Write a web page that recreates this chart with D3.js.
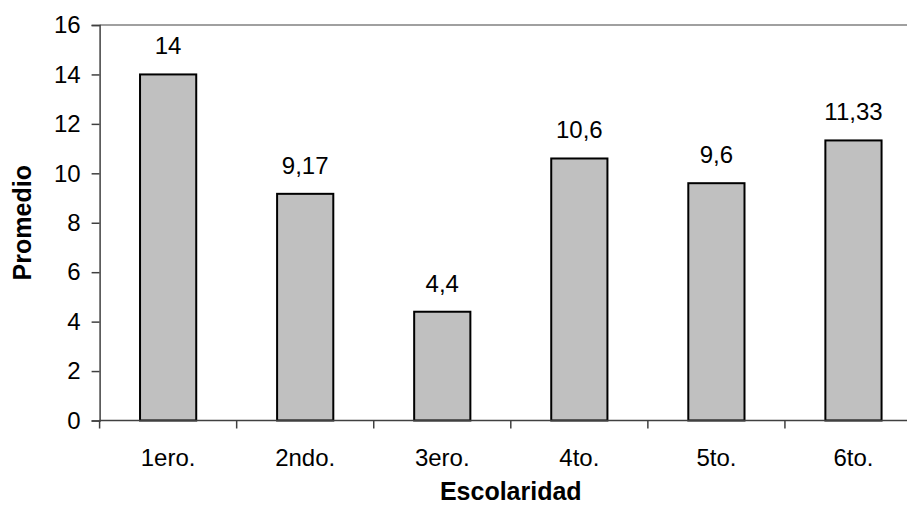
<!DOCTYPE html>
<html>
<head>
<meta charset="utf-8">
<script src="https://cdn.jsdelivr.net/npm/d3@7"></script>
<style>
  html, body { margin: 0; padding: 0; background: #fff; }
  svg { display: block; font-family: "Liberation Sans", Arial, sans-serif; }
</style>
</head>
<body>
<svg id="chart" width="907" height="514"></svg>
<script>
// Average score by school grade
const categories = ["1ero.", "2ndo.", "3ero.", "4to.", "5to.", "6to."];
const promedio = [14, 9.17, 4.4, 10.6, 9.6, 11.33];
const yTicks = [0, 2, 4, 6, 8, 10, 12, 14, 16];

const margin = { left: 99.6, top: 25, bottom: 93.5 };
const plotW = 822.4;           // plot area runs past the right edge of the page
const svg = d3.select("#chart");
const H = +svg.attr("height");
const plotH = H - margin.top - margin.bottom;

const x = d3.scaleBand()
  .domain(categories)
  .range([0, plotW])
  .paddingInner(0.59)
  .paddingOuter(0.295);

const y = d3.scaleLinear().domain([0, 16]).range([plotH, 0]);

const g = svg.append("g").attr("transform", `translate(${margin.left},${margin.top})`);

// top border of the plot area
g.append("line")
  .attr("x1", 0).attr("x2", plotW)
  .attr("y1", y(16)).attr("y2", y(16))
  .attr("stroke", "#808080").attr("stroke-width", 1.5);

// bars
g.selectAll("rect.bar")
  .data(promedio)
  .join("rect")
  .attr("class", "bar")
  .attr("x", (d, i) => x(categories[i]))
  .attr("width", x.bandwidth())
  .attr("y", d => y(d))
  .attr("height", d => y(0) - y(d))
  .attr("fill", "#c0c0c0")
  .attr("stroke", "#000")
  .attr("stroke-width", 2);

// value labels
const fmt = v => String(v).replace(".", ",");
g.selectAll("text.val")
  .data(promedio)
  .join("text")
  .attr("class", "val")
  .attr("x", (d, i) => x(categories[i]) + x.bandwidth() / 2)
  .attr("y", d => y(d) - 20)
  .attr("text-anchor", "middle")
  .attr("font-size", 24)
  .attr("fill", "#000")
  .text(fmt);

// y axis
const yAxis = g.append("g")
  .call(d3.axisLeft(y).tickValues(yTicks).tickSize(8).tickPadding(11).tickFormat(d3.format("d")));
yAxis.select(".domain").attr("stroke", "#404040").attr("stroke-width", 1.5);
yAxis.selectAll(".tick line").attr("stroke", "#404040").attr("stroke-width", 1.5);
yAxis.selectAll(".tick text").attr("font-size", 24).attr("fill", "#000")
  .attr("font-family", "Liberation Sans, Arial, sans-serif");

// x axis: line, boundary ticks, category labels
const xAxis = g.append("g").attr("transform", `translate(0,${plotH})`);
xAxis.append("line")
  .attr("x1", 0).attr("x2", plotW).attr("y1", 0).attr("y2", 0)
  .attr("stroke", "#404040").attr("stroke-width", 1.5);
const step = x.step();
const bounds = d3.range(categories.length + 1).map(i => x(categories[0]) - x.paddingOuter() * step + i * step);
xAxis.selectAll("line.tk")
  .data(bounds)
  .join("line")
  .attr("class", "tk")
  .attr("x1", d => d).attr("x2", d => d)
  .attr("y1", 0).attr("y2", 8)
  .attr("stroke", "#404040").attr("stroke-width", 1.5);
xAxis.selectAll("text.cat")
  .data(categories)
  .join("text")
  .attr("class", "cat")
  .attr("x", d => x(d) + x.bandwidth() / 2)
  .attr("y", 45)
  .attr("text-anchor", "middle")
  .attr("font-size", 24)
  .attr("fill", "#000")
  .text(d => d);

// axis titles
svg.append("text")
  .attr("x", margin.left + plotW / 2)
  .attr("y", 500)
  .attr("text-anchor", "middle")
  .attr("font-size", 25)
  .attr("font-weight", "bold")
  .text("Escolaridad");

svg.append("text")
  .attr("transform", `translate(31,${margin.top + plotH / 2}) rotate(-90)`)
  .attr("text-anchor", "middle")
  .attr("font-size", 25)
  .attr("font-weight", "bold")
  .text("Promedio");
</script>
</body>
</html>
